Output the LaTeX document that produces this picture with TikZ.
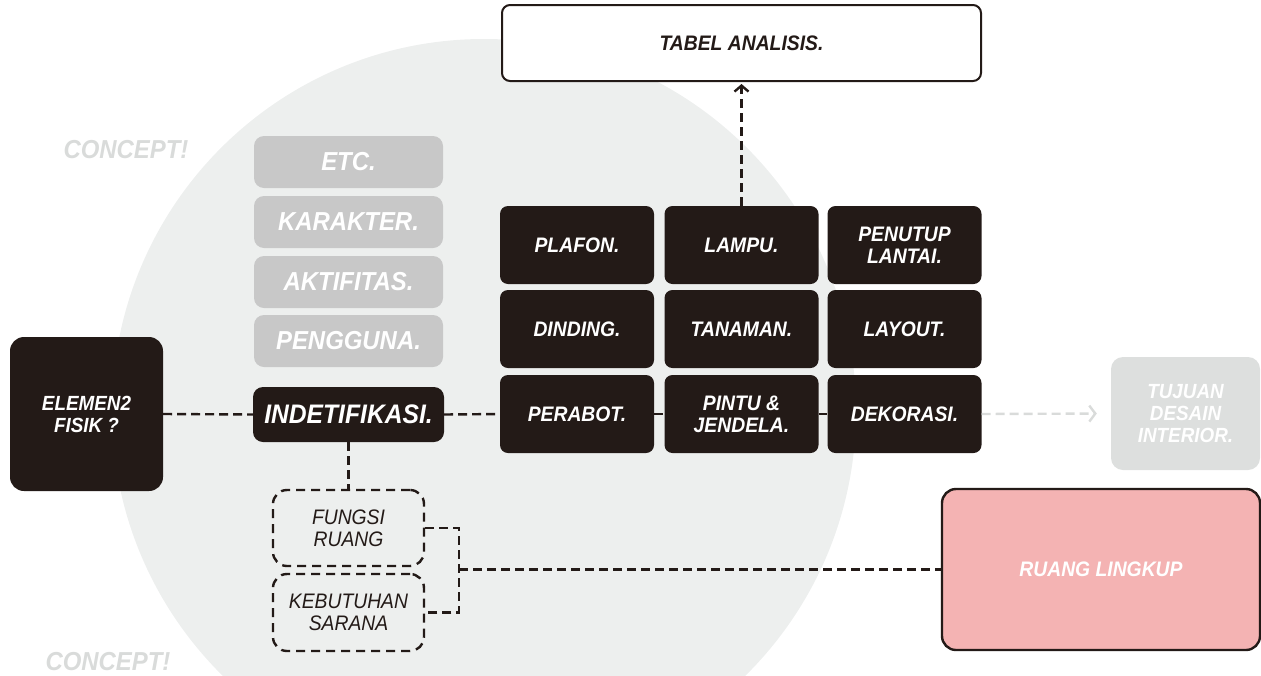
\documentclass[tikz,border=0pt]{standalone}
\usepackage{fontspec}
\setmainfont[FakeStretch=0.92]{Liberation Sans}
\usetikzlibrary{arrows.meta}

\definecolor{inkbrown}{HTML}{231A17}
\definecolor{blobgray}{HTML}{EDEFEE}
\definecolor{softgray}{HTML}{C8C8C8}
\definecolor{palegray}{HTML}{DDDFDE}
\definecolor{conceptgray}{HTML}{D9DBDA}
\definecolor{scopepink}{HTML}{F4B3B3}

\tikzset{
	elembox/.style={fill=inkbrown, rounded corners=8pt, minimum width=154pt, minimum height=78pt, inner sep=0pt, text=white, align=center, font=\fontsize{21}{22}\selectfont\bfseries\itshape},
	factorbox/.style={fill=softgray, rounded corners=10pt, minimum width=189pt, minimum height=52pt, inner sep=0pt, text=white, font=\fontsize{26}{28}\selectfont\bfseries\itshape},
	needbox/.style={draw=inkbrown, line width=2.4pt, dash pattern=on 9pt off 6pt, rounded corners=14pt, minimum width=151pt, minimum height=76pt, inner sep=0pt, text=inkbrown, align=center, font=\fontsize{21}{22}\selectfont\itshape},
	link/.style={draw=inkbrown, line width=2.4pt, dash pattern=on 9pt off 5pt},
	conceptmark/.style={text=conceptgray, font=\fontsize{26}{28}\selectfont\bfseries\itshape},
}

\begin{document}
\begin{tikzpicture}[x=1pt, y=-1pt]
		\clip (0, 0) rectangle (1261, 675);
		\fill[blobgray] (484, 411) circle[radius=372];
		\node[conceptmark] (concepttop) at (126, 150) {CONCEPT!};
		\node[conceptmark] (conceptbot) at (108, 662) {CONCEPT!};
		\node[draw=inkbrown, line width=2pt, fill=white, rounded corners=8pt, minimum width=479pt, minimum height=76pt, text=inkbrown, font=\fontsize{21}{22}\selectfont\bfseries\itshape] (tabel) at (741.5, 43) {TABEL ANALISIS.};
		\node[factorbox] (etc) at (348.5, 162) {ETC.};
		\node[factorbox] (karakter) at (348.5, 222) {KARAKTER.};
		\node[factorbox] (aktifitas) at (348.5, 282) {AKTIFITAS.};
		\node[factorbox] (pengguna) at (348.5, 341) {PENGGUNA.};
		\node[elembox, rounded corners=14pt, minimum width=153pt, minimum height=154pt, font=\fontsize{20.5}{22}\selectfont\bfseries\itshape] (elemen) at (86.5, 414) {ELEMEN2\\FISIK ?};
		\node[elembox, rounded corners=10pt, minimum width=191pt, minimum height=55pt, font=\fontsize{26.8}{28}\selectfont\bfseries\itshape] (indet) at (348.5, 414.5) {INDETIFIKASI.};
		\node[elembox] (plafon) at (577, 245) {PLAFON.};
		\node[elembox] (lampu) at (741.5, 245) {LAMPU.};
		\node[elembox] (penutup) at (904.5, 245) {PENUTUP\\LANTAI.};
		\node[elembox] (dinding) at (577, 329) {DINDING.};
		\node[elembox] (tanaman) at (741.5, 329) {TANAMAN.};
		\node[elembox] (layout) at (904.5, 329) {LAYOUT.};
		\node[elembox] (perabot) at (577, 414) {PERABOT.};
		\node[elembox] (pintu) at (741.5, 414) {PINTU \&\\JENDELA.};
		\node[elembox] (dekorasi) at (904.5, 414) {DEKORASI.};
		\node[fill=palegray, rounded corners=12pt, minimum width=149pt, minimum height=113pt, inner sep=0pt, text=white, align=center, font=\fontsize{20.5}{22}\selectfont\bfseries\itshape] (tujuan) at (1185.5, 413.5) {TUJUAN\\DESAIN\\INTERIOR.};
		\node[needbox] (fungsi) at (348.5, 528) {FUNGSI\\RUANG};
		\node[needbox, minimum height=77pt] (kebutuhan) at (348.5, 612.5) {KEBUTUHAN\\SARANA};
		\node[draw=inkbrown, line width=2.4pt, fill=scopepink, rounded corners=14pt, minimum width=318pt, minimum height=161pt, text=white, font=\fontsize{21}{22}\selectfont\bfseries\itshape] (ruang) at (1101, 569.5) {RUANG LINGKUP};
		% connectors
		\draw[link] (elemen.east) -- (indet.west);
		\draw[link] (indet.east) -- (perabot.west);
		\draw[link] (perabot.east) -- (pintu.west);
		\draw[link] (pintu.east) -- (dekorasi.west);
		\draw[link, draw=conceptgray, shorten >=14pt, -{Straight Barb[length=6pt, width=16pt]}] (dekorasi.east) -- (tujuan.west);
		\draw[link, shorten >=2pt, -{Straight Barb[length=6pt, width=14pt]}] (lampu.north) -- (tabel.south);
		\draw[link] (indet.south) -- (fungsi.north);
		\coordinate (bracket) at (459, 569.5);
		\draw[link] (fungsi.east) -| (bracket) |- (kebutuhan.east);
		\draw[link] (bracket) -- (ruang.west);
	\end{tikzpicture}
\end{document}
